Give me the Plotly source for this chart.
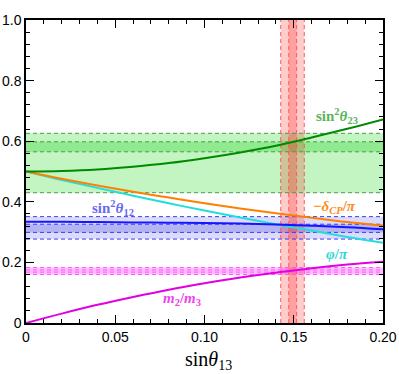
import plotly.graph_objects as go

# ---- data ----
x_vals = [0.00, 0.02, 0.04, 0.06, 0.08, 0.10, 0.12, 0.14, 0.16, 0.18, 0.20]
sin2_t23 = [0.500, 0.502, 0.507, 0.516, 0.528, 0.544, 0.563, 0.585, 0.612, 0.641, 0.672]
neg_dcp = [0.500, 0.476, 0.454, 0.433, 0.414, 0.395, 0.378, 0.362, 0.347, 0.333, 0.321]
phi_pi = [0.500, 0.472, 0.446, 0.420, 0.395, 0.371, 0.348, 0.326, 0.305, 0.284, 0.265]
m2_m3 = [0.000, 0.031, 0.060, 0.086, 0.110, 0.131, 0.150, 0.166, 0.181, 0.193, 0.202]
sin2_t12 = [0.334, 0.334, 0.333, 0.332, 0.331, 0.330, 0.328, 0.325, 0.321, 0.316, 0.309]

# experimental ranges (outer, inner)
t23_outer = [0.430, 0.626]
t23_inner = [0.565, 0.598]
t12_outer = [0.277, 0.351]
t12_inner = [0.299, 0.326]
m_band = [0.160, 0.183]
m_lines = [0.160, 0.168, 0.175, 0.183]
t13_outer = [0.1427, 0.1559]
t13_inner = [0.1472, 0.1516]

x_ticks = [0, 0.05, 0.10, 0.15, 0.20]
x_ticktext = ["0", "0.05", "0.10", "0.15", "0.20"]
y_ticks = [0, 0.2, 0.4, 0.6, 0.8, 1.0]
y_ticktext = ["0", "0.2", "0.4", "0.6", "0.8", "1.0"]

fig = go.Figure()

DASH = "4px,3px"
shapes = []
def hband(y0, y1, color):
    shapes.append(dict(type="rect", xref="x", yref="y", x0=0, x1=0.2, y0=y0, y1=y1,
                       fillcolor=color, line=dict(width=0), layer="below"))
def vband(x0, x1, color):
    shapes.append(dict(type="rect", xref="x", yref="y", x0=x0, x1=x1, y0=0, y1=1,
                       fillcolor=color, line=dict(width=0), layer="below"))
def hline(y, color):
    shapes.append(dict(type="line", xref="x", yref="y", x0=0, x1=0.2, y0=y, y1=y,
                       line=dict(color=color, width=1, dash=DASH), layer="below"))
def vline(x, color):
    shapes.append(dict(type="line", xref="x", yref="y", x0=x, x1=x, y0=0, y1=1,
                       line=dict(color=color, width=1, dash=DASH), layer="below"))

hband(t23_outer[0], t23_outer[1], "#c2f5c2")
hband(t23_inner[0], t23_inner[1], "#90ea90")
hband(t12_outer[0], t12_outer[1], "#dcdcfa")
hband(t12_inner[0], t12_inner[1], "#b4b4f2")
hband(m_band[0], m_band[1], "#ffbcff")
vband(t13_outer[0], t13_outer[1], "rgba(255,0,0,0.2)")
vband(t13_inner[0], t13_inner[1], "rgba(255,0,0,0.22)")
for y in t23_outer + t23_inner:
    hline(y, "#4a9a50")
for y in t12_outer + t12_inner:
    hline(y, "#3a3aff")
for y in m_lines:
    hline(y, "#ff55ff")
for x in t13_outer + t13_inner:
    vline(x, "#ff5a5a")

def curve(y, color):
    fig.add_trace(go.Scatter(x=x_vals, y=y, mode="lines", line=dict(color=color, width=2, shape="spline"),
                             showlegend=False, hoverinfo="skip"))

curve(phi_pi, "#22dddd")
curve(neg_dcp, "#ff8000")
curve(sin2_t12, "#1515ff")
curve(sin2_t23, "#008a00")
curve(m2_m3, "#e000e0")

lab_font = "Liberation Serif, Times New Roman, serif"
annots = [
    (0.174, 0.683, "<b>sin<sup>2</sup><i>θ</i><sub>23</sub></b>", "#5cb45c"),
    (0.173, 0.384, "<b>−<i>δ</i><sub><i>CP</i></sub>/<i>π</i></b>", "#ff8a1a"),
    (0.1745, 0.228, "<b><i>φ</i>/<i>π</i></b>", "#30d5d5"),
    (0.049, 0.379, "<b>sin<sup>2</sup><i>θ</i><sub>12</sub></b>", "#6a6af0"),
    (0.0874, 0.079, "<b><i>m</i><sub>2</sub>/<i>m</i><sub>3</sub></b>", "#ee44ee"),
]
for ax, ay, txt, col in annots:
    fig.add_annotation(x=ax, y=ay, xref="x", yref="y", text=txt, showarrow=False,
                       font=dict(family=lab_font, size=15, color=col))

# x-axis title
fig.add_annotation(x=0.51, y=-0.125, xref="paper", yref="paper", yanchor="middle",
                   text="sin<i>θ</i><sub>13</sub>", showarrow=False,
                   font=dict(family=lab_font, size=20, color="black"))

axis_common = dict(showline=True, linecolor="black", linewidth=1.5, mirror="allticks",
                   ticks="inside", ticklen=8, tickwidth=1.3, tickcolor="black",
                   showgrid=False, zeroline=False, automargin=False,
                   tickfont=dict(family="Liberation Sans, Arial, sans-serif", size=14, color="black"))

fig.update_layout(
    width=399, height=374,
    margin=dict(l=26, r=16, t=20, b=51),
    paper_bgcolor="white", plot_bgcolor="white",
    shapes=shapes,
    xaxis=dict(range=[0, 0.2], tickvals=x_ticks, ticktext=x_ticktext,
               minor=dict(dtick=0.01, tick0=0, ticks="inside", ticklen=4, tickwidth=1, tickcolor="black"),
               **axis_common),
    yaxis=dict(range=[0, 1], tickvals=y_ticks, ticktext=y_ticktext,
               minor=dict(dtick=0.04, tick0=0, ticks="inside", ticklen=4, tickwidth=1, tickcolor="black"),
               **axis_common),
)

fig.write_html("out.html", config={"displayModeBar": False},
               post_script="document.body.style.margin='0';document.body.style.overflow='hidden';")
